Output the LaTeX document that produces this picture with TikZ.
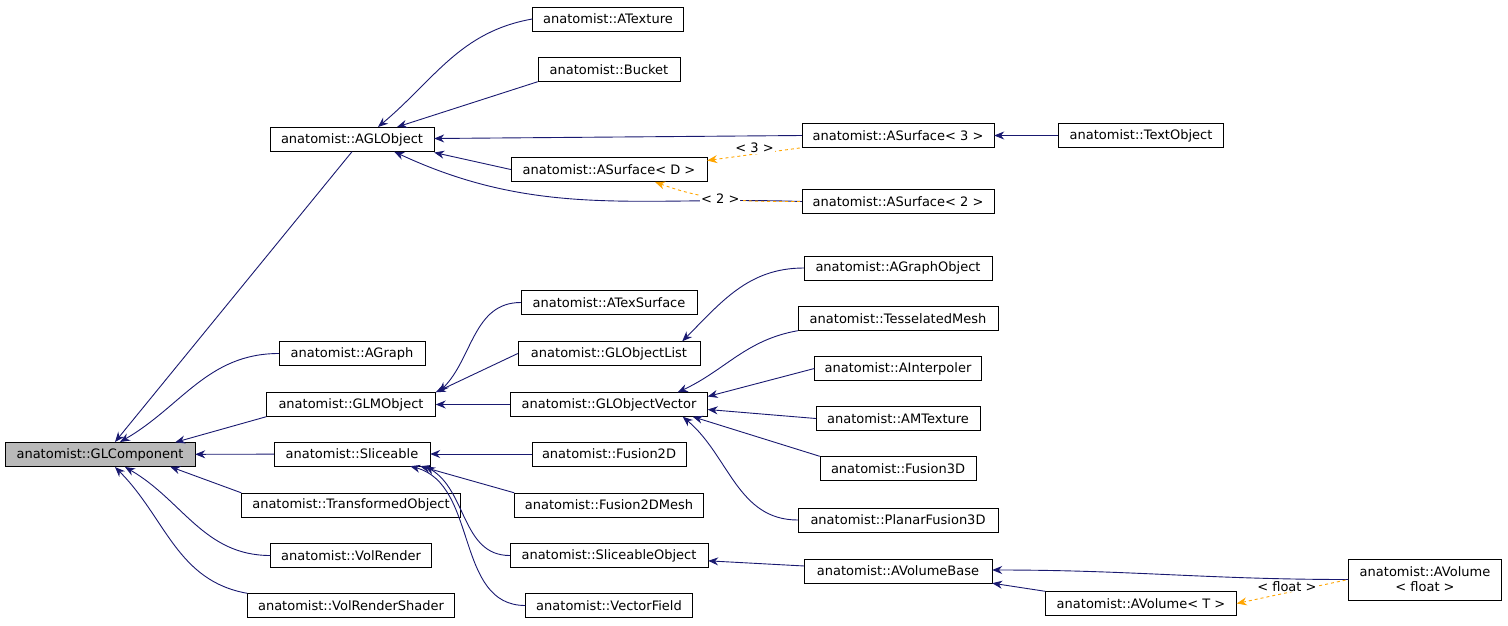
\documentclass[tikz,border=0pt]{standalone}
\usepackage{fontspec}
\setmainfont{DejaVu Sans}
\usetikzlibrary{arrows.meta, positioning}
\definecolor{inhBlue}{RGB}{25, 25, 112}
\definecolor{tplOrange}{RGB}{255, 165, 0}

\begin{document}
\begin{tikzpicture}[
    x=1pt, y=-1pt,
    % --- class boxes ---
    cls/.style={draw=black, fill=white, minimum width=#1, minimum height=24pt,
        inner sep=2pt, font=\fontsize{13}{15}\selectfont, align=center},
    base/.style={cls=#1, fill=gray!55},
    % --- connectors ---
    inh/.style={{Stealth[length=10pt, width=8pt]}-, draw=inhBlue, line width=0.9pt},
    tpl/.style={{Stealth[length=10pt, width=8pt]}-, draw=tplOrange, line width=0.9pt, dashed},
    tlabel/.style={font=\fontsize{13}{15}\selectfont, fill=white, inner sep=1pt}
]
    \useasboundingbox (0,0) rectangle (1508,625);

    % --- root ---
    \node (glcomp) [base=190pt] at (100,454.5) {anatomist::GLComponent};

    % --- second column ---
    \node (aglobj) [cls=164pt] at (352,139.5) {anatomist::AGLObject};
    \node (agraph) [cls=146pt] at (352,353.5) {anatomist::AGraph};
    \node (glmobj) [cls=169pt] at (351,404.5) {anatomist::GLMObject};
    \node (slice) [cls=156pt] at (352,454) {anatomist::Sliceable};
    \node (transf) [cls=219pt] at (351,505) {anatomist::TransformedObject};
    \node (volr) [cls=161pt] at (351,555.5) {anatomist::VolRender};
    \node (volrs) [cls=207pt] at (351,605.5) {anatomist::VolRenderShader};

    % --- third column ---
    \node (atex) [cls=151pt] at (608,19) {anatomist::ATexture};
    \node (bucket) [cls=142pt] at (609,69.5) {anatomist::Bucket};
    \node (asurfD) [cls=196pt] at (609,169.5) {anatomist::ASurface< D >};
    \node (atexs) [cls=176pt] at (609,302.5) {anatomist::ATexSurface};
    \node (gllist) [cls=182pt] at (609,353.5) {anatomist::GLObjectList};
    \node (glvec) [cls=197pt] at (609,404.5) {anatomist::GLObjectVector};
    \node (fus2d) [cls=154pt] at (609,454) {anatomist::Fusion2D};
    \node (fus2dm) [cls=189pt] at (609,505) {anatomist::Fusion2DMesh};
    \node (sliceo) [cls=198pt] at (609,555.5) {anatomist::SliceableObject};
    \node (vfield) [cls=167pt] at (609,605.5) {anatomist::VectorField};

    % --- fourth column ---
    \node (asurf3) [cls=192pt] at (898,135.5) {anatomist::ASurface< 3 >};
    \node (asurf2) [cls=192pt] at (898,201.5) {anatomist::ASurface< 2 >};
    \node (agrobj) [cls=188pt] at (898,268) {anatomist::AGraphObject};
    \node (tmesh) [cls=200pt] at (898,318.5) {anatomist::TesselatedMesh};
    \node (ainterp) [cls=167pt] at (898,368.5) {anatomist::AInterpoler};
    \node (amtex) [cls=164pt] at (898,418.5) {anatomist::AMTexture};
    \node (fus3d) [cls=156pt] at (898,468.5) {anatomist::Fusion3D};
    \node (pfus3d) [cls=200pt] at (898,520) {anatomist::PlanarFusion3D};
    \node (avbase) [cls=188pt] at (898,571) {anatomist::AVolumeBase};

    % --- right columns ---
    \node (textobj) [cls=165pt] at (1141,135.5) {anatomist::TextObject};
    \node (avolT) [cls=191pt] at (1141,603.5) {anatomist::AVolume< T >};
    \node (avolf) [cls=153pt, minimum height=41pt] at (1425,579.5) {anatomist::AVolume\\< float >};

    % --- inheritance from GLComponent ---
    \draw [inh] (115,442) -- (aglobj.south);
    \draw [inh] (120,442) to[out=30, in=180] (agraph.west);
    \draw [inh] (glcomp.north east) ++(-20,0) -- (glmobj.south west);
    \draw [inh] (glcomp) -- (slice);
    \draw [inh] (glcomp.south east) ++(-25,0) -- (transf.north west);
    \draw [inh] (125,467) to[out=-30, in=180] (volr.west);
    \draw [inh] (115,467) to[out=-45, in=170] (volrs.north west);

    % --- AGLObject subclasses ---
    \draw [inh] (378,127) to[out=40, in=190] (atex.west);
    \draw [inh] (397,127) -- (bucket.south west);
    \draw [inh] (aglobj.east) ++(0,-1) -- (asurf3.west);
    \draw [inh] (aglobj.east) ++(0,13) -- (asurfD.west);
    \draw [inh] (aglobj.south east) ++(-40,0) to[out=-25, in=178] (asurf2.west);
    \draw [inh] (asurf3) -- (textobj);

    % --- template instances ---
    \draw [tpl] (asurfD.east) ++(0,-9) -- node [tlabel, above] {< 3 >} (asurf3.south west);
    \draw [tpl] (655,182) to[out=-20, in=180] node [tlabel, pos=0.45] {< 2 >} (asurf2.west);

    % --- GLMObject subclasses ---
    \draw [inh] (439,392) to[out=45, in=180] (atexs.west);
    \draw [inh] (glmobj.north east) -- (gllist.west);
    \draw [inh] (glmobj) -- (glvec);
    \draw [inh] (gllist.north east) ++(-18,0) to[out=45, in=180] (agrobj.west);

    % --- GLObjectVector subclasses ---
    \draw [inh] (glvec.north east) ++(-30,0) to[out=25, in=190] (tmesh.south west);
    \draw [inh] (glvec.east) ++(0,-8) -- (ainterp.west);
    \draw [inh] (glvec.east) ++(0,5) -- (amtex.west);
    \draw [inh] (glvec.south east) ++(-15,0) -- (fus3d.north west);
    \draw [inh] (glvec.south east) ++(-25,0) to[out=-40, in=180] (pfus3d.west);

    % --- Sliceable subclasses ---
    \draw [inh] (slice) -- (fus2d);
    \draw [inh] (slice.south east) ++(-10,0) -- (fus2dm.north west);
    \draw [inh] (slice.south east) ++(-5,0) to[out=-30, in=180] (sliceo.west);
    \draw [inh] (slice.south east) ++(-20,0) to[out=-15, in=180] (vfield.west);
    \draw [inh] (sliceo) -- (avbase);

    % --- AVolume ---
    \draw [inh] (avbase.east) ++(0,-1) to[out=0, in=180] (avolf.west);
    \draw [inh] (avbase.south east) -- (avolT.north west);
    \draw [tpl] (avolT.east) -- node [tlabel, above, pos=0.45] {< float >} (avolf.west);
\end{tikzpicture}
\end{document}
